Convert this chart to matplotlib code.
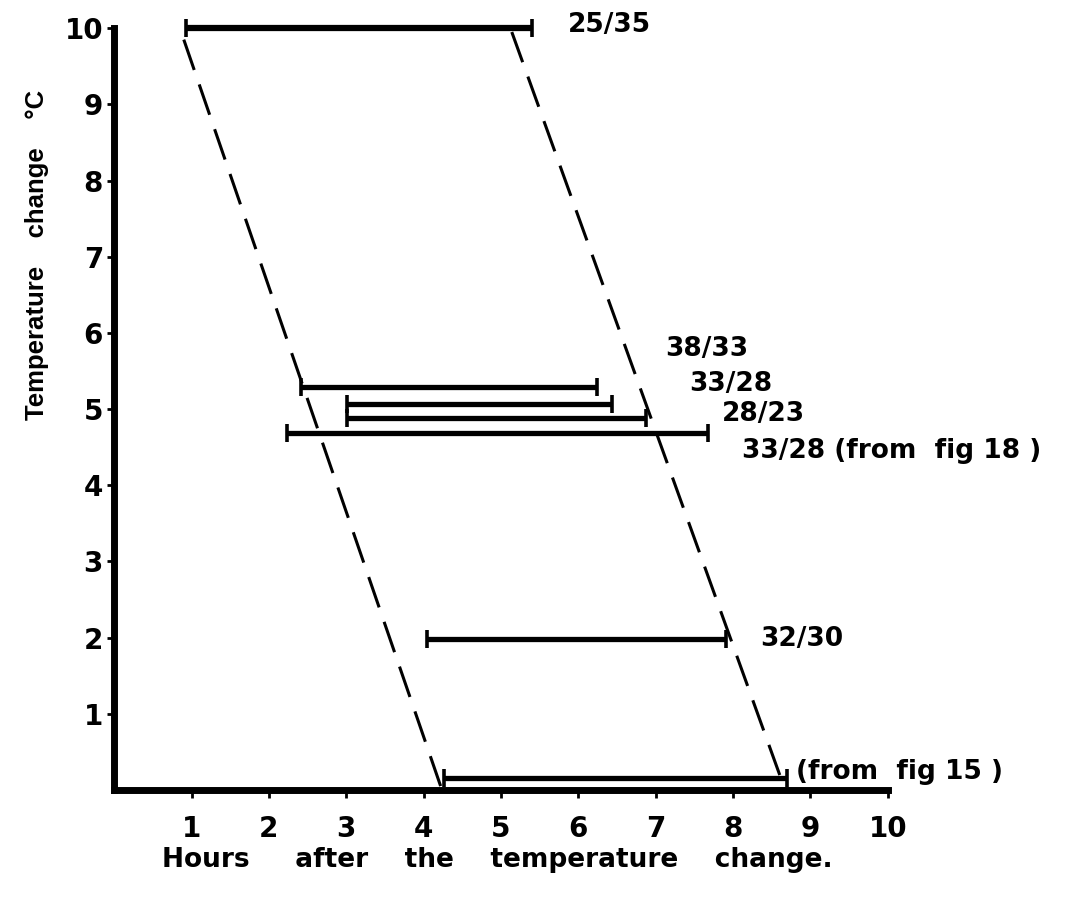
import matplotlib
matplotlib.use("Agg")
import matplotlib.pyplot as plt

# temperature regimes, shift (degrees C) and the hours range of each response
regimes = ["25/35", "38/33", "33/28", "28/23", "33/28 (from  fig 18 )", "32/30", "(from  fig 15 )"]
temp_change = [10.0, 5.29, 5.07, 4.88, 4.68, 1.98, 0.15]
start_hours = [0.93, 2.42, 3.01, 3.01, 2.23, 4.05, 4.26]
end_hours = [5.40, 6.24, 6.44, 6.87, 7.68, 7.91, 8.70]

# where each regime label sits (hours, degrees)
label_x = [5.87, 7.12, 7.43, 7.85, 8.12, 8.35, 8.82]
label_y = [10.04, 5.79, 5.33, 4.93, 4.45, 1.98, 0.24]

# dashed envelope lines (hours at top, hours at bottom)
left_edge_x = [0.90, 4.22]
left_edge_y = [9.85, 0.05]
right_edge_x = [5.14, 8.62]
right_edge_y = [9.95, 0.15]

x_ticks = [1, 2, 3, 4, 5, 6, 7, 8, 9, 10]
y_ticks = [1, 2, 3, 4, 5, 6, 7, 8, 9, 10]


def main():
    fig = plt.figure(figsize=(10.67, 9.10), dpi=100)
    ax = fig.add_axes([0.107, 0.132, 0.725, 0.837])

    ax.plot(left_edge_x, left_edge_y, color="black", lw=2.2, dashes=(10.5, 5), clip_on=False)
    ax.plot(right_edge_x, right_edge_y, color="black", lw=2.2, dashes=(10.5, 5), clip_on=False)

    for i in range(len(regimes)):
        lw = 4.5 if i == 0 else 3.8
        ax.plot([start_hours[i], end_hours[i]], [temp_change[i], temp_change[i]],
                color="black", lw=lw, solid_capstyle="butt", clip_on=False)
        ax.plot([start_hours[i], end_hours[i]], [temp_change[i], temp_change[i]],
                ls="none", marker="|", ms=13, mew=2.6, color="black", clip_on=False)
        ax.text(label_x[i], label_y[i], regimes[i], fontsize=19, fontweight="bold",
                family="DejaVu Sans", ha="left", va="center")

    ax.set_xlim(0, 10)
    ax.set_ylim(0, 10)
    ax.set_xticks(x_ticks)
    ax.set_yticks(y_ticks)
    ax.set_xticklabels([str(v) for v in x_ticks], fontsize=20, fontweight="bold",
                       family="DejaVu Sans")
    ax.set_yticklabels([str(v) for v in y_ticks], fontsize=20, fontweight="bold",
                       family="DejaVu Sans")

    for side in ["top", "right"]:
        ax.spines[side].set_visible(False)
    for side in ["left", "bottom"]:
        ax.spines[side].set_linewidth(5)
        ax.spines[side].set_capstyle("projecting")

    ax.tick_params(axis="x", direction="out", length=6, width=2, pad=12)
    ax.tick_params(axis="y", direction="out", length=5, width=2, pad=3)

    fig.text(0.152, 0.055, "Hours     after    the    temperature    change.",
             fontsize=19, fontweight="bold", family="DejaVu Sans", ha="left", va="center")
    fig.text(0.035, 0.72, "Temperature    change    \u00b0C", rotation=90,
             fontsize=18.5, fontweight="bold", family="Liberation Sans", ha="center", va="center")

    fig.savefig("out.png", dpi=100)


if __name__ == "__main__":
    main()
